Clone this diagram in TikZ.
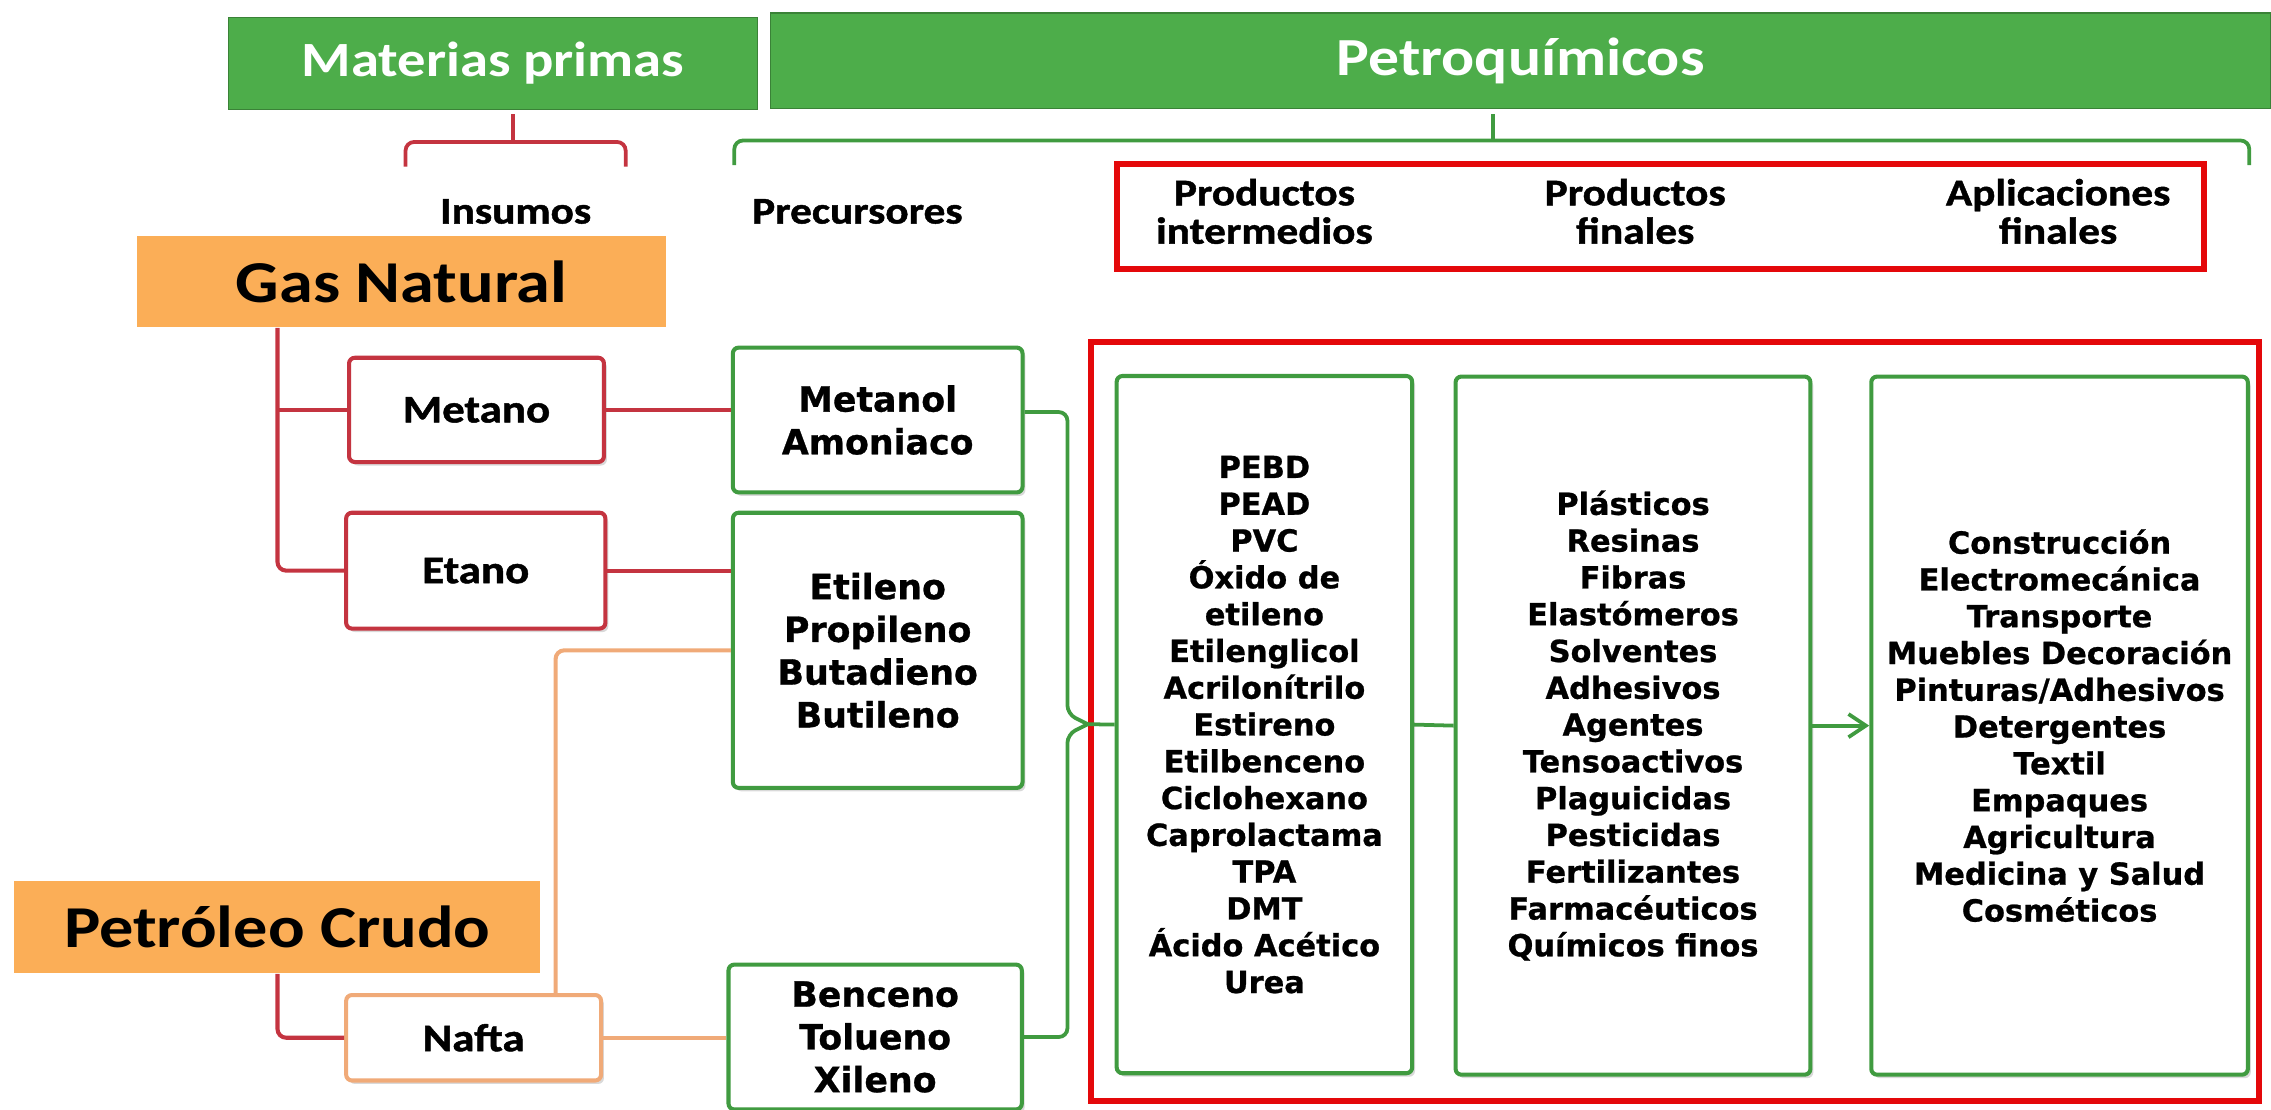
\documentclass[tikz,border=0pt]{standalone}
\usepackage{fontspec}
\setmainfont{Carlito}
\newfontfamily\calfont[FakeStretch=1.15]{Carlito}
\newfontfamily\calfontb[FakeStretch=1.15,FakeBold=1.2]{Carlito}
\newfontfamily\listfont[FakeBold=0.8]{DejaVu Sans}
\usetikzlibrary{arrows.meta,shadows}
\definecolor{hgreen}{RGB}{77,173,74}
\definecolor{bgreen}{RGB}{64,155,64}
\definecolor{lred}{RGB}{196,52,64}
\definecolor{bred}{RGB}{228,8,10}
\definecolor{orfill}{RGB}{251,174,87}
\definecolor{orline}{RGB}{240,170,120}
\begin{document}
\begin{tikzpicture}[x=0.5pt,y=-0.5pt,
  shad/.style={drop shadow={shadow xshift=1pt,shadow yshift=-1.2pt,opacity=0.3,fill=black!50}},
  title/.style={fill=hgreen,draw=hgreen!75!black,line width=0.5pt,text=white,inner sep=0pt},
  srcbox/.style={fill=orfill,inner sep=0pt,font=\calfont\bfseries\fontsize{20.5}{24}\selectfont},
  rbox/.style={draw=lred,fill=white,line width=1.4pt,rounded corners=2pt,inner sep=0pt,font=\calfontb\bfseries\fontsize{13.5}{16}\selectfont,shad},
  obox/.style={rbox,draw=orline},
  gbox/.style={draw=bgreen,fill=white,line width=1.4pt,rounded corners=2pt,inner sep=0pt,align=center,shad},
  pre/.style={gbox,font=\listfont\bfseries\fontsize{12}{14.75}\selectfont},
  lst/.style={gbox,font=\listfont\bfseries\fontsize{10.5}{12.7}\selectfont},
  lbl/.style={font=\calfontb\bfseries\fontsize{13}{13.25}\selectfont,align=center,inner sep=0pt},
  rline/.style={draw=lred,line width=1.4pt},
  oline/.style={draw=orline,line width=1.4pt},
  gline/.style={draw=bgreen,line width=1.3pt},
]
\useasboundingbox (0,0) rectangle (1568,766);

% title bars
\node[title,minimum width=182.6pt,minimum height=31.75pt,font=\calfont\bfseries\fontsize{17}{20}\selectfont] (mat) at (340.4,43.75) {Materias primas};
\node[title,minimum width=518pt,minimum height=33pt,font=\calfont\bfseries\fontsize{18.5}{22}\selectfont] (pq) at (1050,42) {Petroquímicos};

% braces
\draw[rline,line width=1.3pt,rounded corners=3pt] (280,115) -- (280,98) -- (432,98) -- (432,115);
\draw[rline,line width=1.3pt] (354,79) -- (354,98);
\draw[gline,rounded corners=3pt] (507,114) -- (507,97) -- (1553,97) -- (1553,114);
\draw[gline] (1031,79) -- (1031,97);

% column labels
\node[lbl] (ins) at (356,146) {Insumos};
\node[lbl] (prec) at (592,146) {Precursores};
\node[draw=bred,line width=2.1pt,minimum width=375.5pt,minimum height=36.5pt,inner sep=0pt] (hdr) at (1146.5,149.5) {};
\node[lbl] (h1) at (873,146) {Productos\\intermedios};
\node[lbl] (h2) at (1129,146) {Productos\\finales};
\node[lbl] (h3) at (1421,146) {Aplicaciones\\finales};

% sources
\node[srcbox,minimum width=182.75pt,minimum height=31.5pt] (gas) at (277.25,194.5) {Gas Natural};
\node[srcbox,minimum width=181.5pt,minimum height=32pt] (petro) at (191.5,640) {Petróleo Crudo};

% insumos
\node[rbox,minimum width=88pt,minimum height=36pt] (metano) at (329,283) {Metano};
\node[rbox,minimum width=89.5pt,minimum height=40pt] (etano) at (328.5,394) {Etano};
\node[obox,minimum width=88pt,minimum height=29.5pt] (nafta) at (327,716.5) {Nafta};

% precursores
\node[pre,minimum width=100pt,minimum height=50pt] (metanol) at (606,290) {Metanol\\Amoniaco};
\node[pre,minimum width=100pt,minimum height=95pt] (etileno) at (606,449) {Etileno\\Propileno\\Butadieno\\Butileno};
\node[pre,minimum width=101.25pt,minimum height=50pt] (benceno) at (604.25,716) {Benceno\\Tolueno\\Xileno};

% big red frame
\node[draw=bred,line width=2.1pt,minimum width=403.5pt,minimum height=262pt,inner sep=0pt] (frame) at (1156.5,498) {};

% product columns
\node[lst,minimum width=102pt,minimum height=240.7pt] (inter) at (873,500.3) {PEBD\\PEAD\\PVC\\Óxido de\\etileno\\Etilenglicol\\Acrilonítrilo\\Estireno\\Etilbenceno\\Ciclohexano\\Caprolactama\\TPA\\DMT\\Ácido Acético\\Urea};
\node[lst,minimum width=122.5pt,minimum height=241pt] (final) at (1127.5,501) {Plásticos\\Resinas\\Fibras\\Elastómeros\\Solventes\\Adhesivos\\Agentes\\Tensoactivos\\Plaguicidas\\Pesticidas\\Fertilizantes\\Farmacéuticos\\Químicos finos};
\node[lst,minimum width=130pt,minimum height=241pt] (apps) at (1422,501) {Construcción\\Electromecánica\\Transporte\\Muebles Decoración\\Pinturas/Adhesivos\\Detergentes\\Textil\\Empaques\\Agricultura\\Medicina y Salud\\Cosméticos};

% red connectors
\coordinate (gasdrop) at ([xshift=48.75pt]gas.south west);
\draw[rline,rounded corners=3pt] (gasdrop) |- (etano.west);
\draw[rline] (gasdrop |- metano.west) -- (metano.west);
\draw[rline] (metano.east) -- (metano.east -| metanol.west);
\draw[rline] (etano.east) -- (etano.east -| etileno.west);
\coordinate (petdrop) at ([xshift=91pt]petro.south west);
\draw[rline,rounded corners=3pt] (petdrop) |- (nafta.west);

% orange connectors
\draw[oline] (nafta.east) -- (nafta.east -| benceno.west);
\coordinate (naftaup) at ([xshift=73pt]nafta.north west);
\draw[oline,rounded corners=3pt] (naftaup) |- (etileno.west);

% green bracket and flow
\coordinate (tip) at (751,500);
\draw[gline,rounded corners=3pt] ([yshift=2.75pt]metanol.east) -| (737,493) -- (tip);
\draw[gline,rounded corners=3pt] (benceno.east) -| (737,507) -- (tip);
\draw[gline] (tip) -- (inter.west);
\draw[gline] (inter.east) -- (final.west);
\draw[gline,-{Straight Barb[length=6pt,width=8pt]}] (final.east) -- (apps.west);
\end{tikzpicture}
\end{document}
